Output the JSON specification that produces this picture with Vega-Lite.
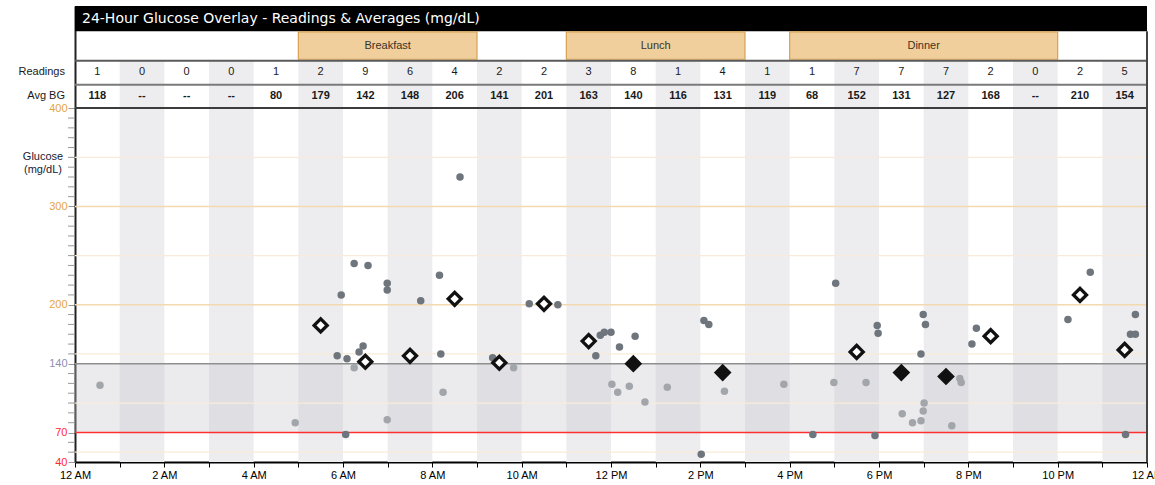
{
  "$schema": "https://vega.github.io/schema/vega-lite/v6.json",
  "width": 1072,
  "height": 456,
  "autosize": {"type": "none"},
  "padding": {"left": 75, "top": 6, "right": 8, "bottom": 23},
  "background": "white",
  "config": {"view": {"stroke": null}, "font": "Liberation Sans"},
  "datasets": {
    "hours": [
      {"h": 0, "n": 1, "avg": 118}, {"h": 1, "n": 0, "avg": null}, {"h": 2, "n": 0, "avg": null},
      {"h": 3, "n": 0, "avg": null}, {"h": 4, "n": 1, "avg": 80}, {"h": 5, "n": 2, "avg": 179},
      {"h": 6, "n": 9, "avg": 142}, {"h": 7, "n": 6, "avg": 148}, {"h": 8, "n": 4, "avg": 206},
      {"h": 9, "n": 2, "avg": 141}, {"h": 10, "n": 2, "avg": 201}, {"h": 11, "n": 3, "avg": 163},
      {"h": 12, "n": 8, "avg": 140}, {"h": 13, "n": 1, "avg": 116}, {"h": 14, "n": 4, "avg": 131},
      {"h": 15, "n": 1, "avg": 119}, {"h": 16, "n": 1, "avg": 68}, {"h": 17, "n": 7, "avg": 152},
      {"h": 18, "n": 7, "avg": 131}, {"h": 19, "n": 7, "avg": 127}, {"h": 20, "n": 2, "avg": 168},
      {"h": 21, "n": 0, "avg": null}, {"h": 22, "n": 2, "avg": 210}, {"h": 23, "n": 5, "avg": 154}
    ],
    "readings": [
      {"t": 0.56, "bg": 118}, {"t": 4.93, "bg": 80}, {"t": 5.87, "bg": 148}, {"t": 5.96, "bg": 210},
      {"t": 6.06, "bg": 68}, {"t": 6.09, "bg": 145}, {"t": 6.25, "bg": 242}, {"t": 6.25, "bg": 136},
      {"t": 6.36, "bg": 152}, {"t": 6.45, "bg": 158}, {"t": 6.56, "bg": 240}, {"t": 6.99, "bg": 83},
      {"t": 6.99, "bg": 222}, {"t": 6.99, "bg": 215}, {"t": 7.74, "bg": 204}, {"t": 8.16, "bg": 230},
      {"t": 8.19, "bg": 150}, {"t": 8.24, "bg": 111}, {"t": 8.62, "bg": 330}, {"t": 9.35, "bg": 146},
      {"t": 9.82, "bg": 136}, {"t": 10.17, "bg": 201}, {"t": 10.81, "bg": 200}, {"t": 11.66, "bg": 148},
      {"t": 11.76, "bg": 169}, {"t": 11.85, "bg": 172}, {"t": 12.0, "bg": 172}, {"t": 12.02, "bg": 119},
      {"t": 12.15, "bg": 111}, {"t": 12.19, "bg": 157}, {"t": 12.41, "bg": 117}, {"t": 12.54, "bg": 168},
      {"t": 12.76, "bg": 101}, {"t": 13.26, "bg": 116}, {"t": 14.02, "bg": 48}, {"t": 14.08, "bg": 184},
      {"t": 14.19, "bg": 180}, {"t": 14.54, "bg": 112}, {"t": 15.87, "bg": 119}, {"t": 16.52, "bg": 68},
      {"t": 16.99, "bg": 121}, {"t": 17.03, "bg": 222}, {"t": 17.71, "bg": 121}, {"t": 17.91, "bg": 67},
      {"t": 17.96, "bg": 179}, {"t": 17.98, "bg": 171}, {"t": 18.52, "bg": 89}, {"t": 18.75, "bg": 80},
      {"t": 18.94, "bg": 82}, {"t": 18.94, "bg": 150}, {"t": 18.99, "bg": 92}, {"t": 18.99, "bg": 190},
      {"t": 19.01, "bg": 100}, {"t": 19.04, "bg": 180}, {"t": 19.63, "bg": 77}, {"t": 19.81, "bg": 125},
      {"t": 19.84, "bg": 121}, {"t": 20.08, "bg": 160}, {"t": 20.18, "bg": 176}, {"t": 22.23, "bg": 185},
      {"t": 22.73, "bg": 233}, {"t": 23.52, "bg": 68}, {"t": 23.63, "bg": 170}, {"t": 23.74, "bg": 170},
      {"t": 23.74, "bg": 190}
    ],
    "meals": [
      {"meal": "Breakfast", "start": 5, "end": 9},
      {"meal": "Lunch", "start": 11, "end": 15},
      {"meal": "Dinner", "start": 16, "end": 22}
    ],
    "grid": [
      {"bg": 350, "kind": "minor"}, {"bg": 250, "kind": "minor"}, {"bg": 150, "kind": "minor"},
      {"bg": 100, "kind": "minor"}, {"bg": 50, "kind": "minor"}, {"bg": 300, "kind": "major"},
      {"bg": 200, "kind": "major"}, {"bg": 140, "kind": "target"}, {"bg": 70, "kind": "low"}
    ],
    "minorTicks": [
      {"bg": 50}, {"bg": 60}, {"bg": 80}, {"bg": 90}, {"bg": 100}, {"bg": 110}, {"bg": 120}, {"bg": 130},
      {"bg": 150}, {"bg": 160}, {"bg": 170}, {"bg": 180}, {"bg": 190}, {"bg": 210}, {"bg": 220}, {"bg": 230},
      {"bg": 240}, {"bg": 250}, {"bg": 260}, {"bg": 270}, {"bg": 280}, {"bg": 290}, {"bg": 310}, {"bg": 320},
      {"bg": 330}, {"bg": 340}, {"bg": 350}, {"bg": 360}, {"bg": 370}, {"bg": 380}, {"bg": 390}
    ]
  },
  "layer": [
    {
      "data": {"name": "hours"},
      "transform": [{"filter": "datum.h % 2 == 1"}, {"calculate": "datum.h + 1", "as": "h2"}],
      "mark": {"type": "rect", "fill": "#ededf0"},
      "encoding": {
        "x": {
          "field": "h", "type": "quantitative", "title": null,
          "scale": {"domain": [0, 24], "nice": false, "zero": false},
          "axis": {
            "title": null,
            "values": [0,1,2,3,4,5,6,7,8,9,10,11,12,13,14,15,16,17,18,19,20,21,22,23,24],
            "labelExpr": "datum.value % 2 != 0 ? '' : ((datum.value % 12 == 0 ? '12' : '' + (datum.value % 12)) + (datum.value % 24 < 12 ? ' AM' : ' PM'))",
            "grid": false, "domainColor": "#000000", "domainWidth": 2,
            "tickColor": "#000000", "tickSize": 5, "tickWidth": 1,
            "labelFontSize": 11, "labelColor": "#000000", "labelPadding": 2,
            "labelOverlap": false, "labelFlush": false, "labelBound": false,
            "labelFont": "Liberation Sans"
          }
        },
        "x2": {"field": "h2"},
        "y": {
          "datum": 40, "type": "quantitative", "title": null,
          "scale": {"domain": [40, 504], "nice": false, "zero": false},
          "axis": {
            "title": null,
            "values": [40, 70, 140, 200, 300, 400],
            "grid": false, "domainColor": "#222222", "domainWidth": 2,
            "tickColor": "#999999", "tickSize": 7, "tickWidth": 1,
            "labelFontSize": 11, "labelPadding": 1, "labelOverlap": false,
            "labelFont": "Liberation Sans",
            "labelColor": {
              "condition": [
                {"test": "datum.value <= 70", "value": "#ff2a2a"},
                {"test": "datum.value == 140", "value": "#8c90b0"}
              ],
              "value": "#e6a53e"
            }
          }
        },
        "y2": {"datum": 448.3}
      }
    },
    {
      "data": {"values": [{"lo": 70, "hi": 140}]},
      "mark": {"type": "rect", "fill": "#c6c6cc", "opacity": 0.35},
      "encoding": {
        "x": {"datum": 0, "type": "quantitative", "title": null},
        "x2": {"datum": 24},
        "y": {"field": "lo", "type": "quantitative", "title": null},
        "y2": {"field": "hi"}
      }
    },
    {
      "data": {"name": "grid"},
      "mark": {"type": "rule"},
      "encoding": {
        "x": {"datum": 0, "type": "quantitative", "title": null},
        "x2": {"datum": 24},
        "y": {"field": "bg", "type": "quantitative", "title": null},
        "color": {"field": "kind", "type": "nominal", "legend": null,
          "scale": {"domain": ["minor", "major", "target", "low"], "range": ["#f8ebd9", "#f3d9b0", "#8f8f8f", "#ff3030"]}},
        "size": {"field": "kind", "type": "nominal", "legend": null,
          "scale": {"domain": ["minor", "major", "target", "low"], "range": [1.2, 1.5, 1.5, 2]}}
      }
    },
    {
      "data": {"name": "minorTicks"},
      "mark": {"type": "rule", "color": "#999999", "strokeWidth": 1},
      "encoding": {
        "x": {"datum": -0.157, "type": "quantitative", "title": null},
        "x2": {"datum": 0},
        "y": {"field": "bg", "type": "quantitative", "title": null}
      }
    },
    {
      "data": {"values": [{"title": "24-Hour Glucose Overlay - Readings & Averages (mg/dL)"}]},
      "mark": {"type": "rect", "fill": "#000000"},
      "encoding": {
        "x": {"datum": 0, "type": "quantitative", "title": null},
        "x2": {"datum": 24},
        "y": {"datum": 478.3, "type": "quantitative", "title": null},
        "y2": {"datum": 504}
      }
    },
    {
      "data": {"values": [{"title": "24-Hour Glucose Overlay - Readings & Averages (mg/dL)"}]},
      "mark": {"type": "text", "align": "left", "baseline": "middle", "dx": 7, "color": "#ffffff", "font": "DejaVu Sans", "fontSize": 14},
      "encoding": {
        "x": {"datum": 0, "type": "quantitative", "title": null},
        "y": {"datum": 491.2, "type": "quantitative", "title": null},
        "text": {"field": "title"}
      }
    },
    {
      "data": {"name": "meals"},
      "mark": {"type": "rect", "fill": "#f0cf9c", "stroke": "#d6a253", "strokeWidth": 1.2},
      "encoding": {
        "x": {"field": "start", "type": "quantitative", "title": null},
        "x2": {"field": "end"},
        "y": {"datum": 449.8, "type": "quantitative", "title": null},
        "y2": {"datum": 477.6}
      }
    },
    {
      "data": {"name": "meals"},
      "transform": [{"calculate": "(datum.start + datum.end) / 2", "as": "mid"}],
      "mark": {"type": "text", "baseline": "middle", "fontSize": 11, "color": "#3a3224"},
      "encoding": {
        "x": {"field": "mid", "type": "quantitative", "title": null},
        "y": {"datum": 463.2, "type": "quantitative", "title": null},
        "text": {"field": "meal"}
      }
    },
    {
      "data": {"values": [{}]},
      "mark": {"type": "rule", "color": "#5a5a5a", "strokeWidth": 2},
      "encoding": {
        "x": {"datum": 0, "type": "quantitative", "title": null},
        "x2": {"datum": 24},
        "y": {"datum": 448.3, "type": "quantitative", "title": null}
      }
    },
    {
      "data": {"values": [{}]},
      "mark": {"type": "rule", "color": "#7a7a7a", "strokeWidth": 2},
      "encoding": {
        "x": {"datum": 0, "type": "quantitative", "title": null},
        "x2": {"datum": 24},
        "y": {"datum": 423.9, "type": "quantitative", "title": null}
      }
    },
    {
      "data": {"values": [{}]},
      "mark": {"type": "rule", "color": "#3c3c3c", "strokeWidth": 2},
      "encoding": {
        "x": {"datum": 0, "type": "quantitative", "title": null},
        "x2": {"datum": 24},
        "y": {"datum": 400.3, "type": "quantitative", "title": null}
      }
    },
    {
      "data": {"values": [{}]},
      "mark": {"type": "rule", "color": "#444444", "strokeWidth": 2},
      "encoding": {
        "x": {"datum": 24, "type": "quantitative", "title": null},
        "y": {"datum": 40, "type": "quantitative", "title": null},
        "y2": {"datum": 478.3}
      }
    },
    {
      "data": {"name": "hours"},
      "transform": [{"calculate": "datum.h + 0.5", "as": "mid"}],
      "mark": {"type": "text", "baseline": "middle", "fontSize": 11, "color": "#1a1a1a"},
      "encoding": {
        "x": {"field": "mid", "type": "quantitative", "title": null},
        "y": {"datum": 436.6, "type": "quantitative", "title": null},
        "text": {"field": "n"}
      }
    },
    {
      "data": {"name": "hours"},
      "transform": [
        {"calculate": "datum.h + 0.5", "as": "mid"},
        {"calculate": "isValid(datum.avg) ? '' + datum.avg : '--'", "as": "label"}
      ],
      "mark": {"type": "text", "baseline": "middle", "fontSize": 11, "fontWeight": "bold", "color": "#1a1a1a"},
      "encoding": {
        "x": {"field": "mid", "type": "quantitative", "title": null},
        "y": {"datum": 412.2, "type": "quantitative", "title": null},
        "text": {"field": "label"}
      }
    },
    {
      "data": {"values": [{"label": "Readings"}]},
      "mark": {"type": "text", "align": "right", "baseline": "middle", "dx": -10, "fontSize": 11, "color": "#1a1a1a"},
      "encoding": {
        "x": {"datum": 0, "type": "quantitative", "title": null},
        "y": {"datum": 436.6, "type": "quantitative", "title": null},
        "text": {"field": "label"}
      }
    },
    {
      "data": {"values": [{"label": "Avg BG"}]},
      "mark": {"type": "text", "align": "right", "baseline": "middle", "dx": -10, "fontSize": 11, "color": "#1a1a1a"},
      "encoding": {
        "x": {"datum": 0, "type": "quantitative", "title": null},
        "y": {"datum": 412.2, "type": "quantitative", "title": null},
        "text": {"field": "label"}
      }
    },
    {
      "data": {"values": [{"label": "Glucose\n(mg/dL)"}]},
      "mark": {"type": "text", "align": "center", "baseline": "middle", "dx": -32, "lineBreak": "\n", "lineHeight": 13, "fontSize": 11, "color": "#1a2030"},
      "encoding": {
        "x": {"datum": 0, "type": "quantitative", "title": null},
        "y": {"datum": 350, "type": "quantitative", "title": null},
        "text": {"field": "label"}
      }
    },
    {
      "data": {"name": "readings"},
      "mark": {"type": "circle", "size": 56, "opacity": 1},
      "encoding": {
        "x": {"field": "t", "type": "quantitative", "title": null},
        "y": {"field": "bg", "type": "quantitative", "title": null},
        "color": {
          "condition": {"test": "datum.bg >= 70 && datum.bg <= 140", "value": "#a2a6ab"},
          "value": "#6f757c"
        }
      }
    },
    {
      "data": {"name": "hours"},
      "transform": [{"filter": "datum.n >= 2"}, {"calculate": "datum.h + 0.5", "as": "mid"}],
      "mark": {"type": "point", "shape": "diamond", "filled": true, "size": 170, "stroke": "#111111", "strokeWidth": 3.3, "opacity": 1},
      "encoding": {
        "x": {"field": "mid", "type": "quantitative", "title": null},
        "y": {"field": "avg", "type": "quantitative", "title": null},
        "fill": {
          "condition": {"test": "datum.avg > 140", "value": "#ffffff"},
          "value": "#111111"
        }
      }
    }
  ]
}
